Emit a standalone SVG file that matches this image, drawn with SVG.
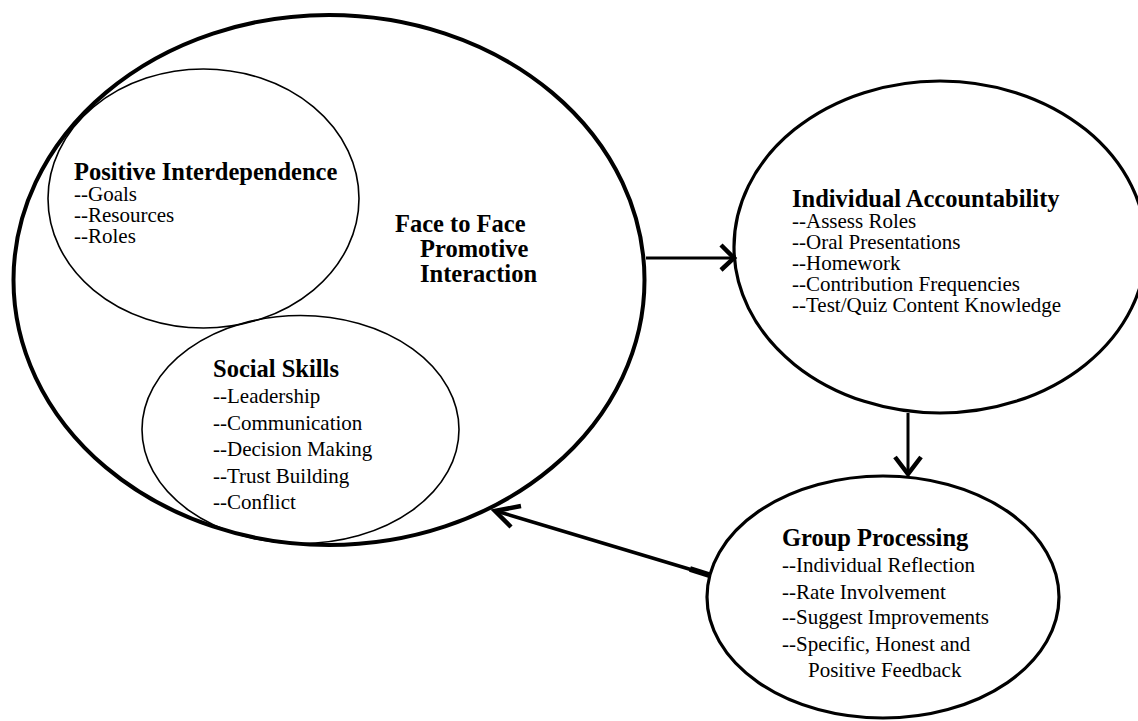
<svg xmlns="http://www.w3.org/2000/svg" width="1138" height="721" viewBox="0 0 1138 721">
<style>
.bg{fill:#fff}
.thick{fill:none;stroke:#000;stroke-width:4}
.med{fill:none;stroke:#000;stroke-width:3.2}
.thin{fill:none;stroke:#000;stroke-width:1.6}
.h{font-family:"Liberation Serif","Times New Roman",serif;font-weight:bold;font-size:24.5px;fill:#000}
.t{font-family:"Liberation Serif","Times New Roman",serif;font-size:21px;fill:#000}
.line{fill:none;stroke:#000;stroke-width:3}
.head{fill:none;stroke:#000;stroke-width:4.5;stroke-linejoin:miter;stroke-linecap:butt}
</style>
<rect class="bg" x="0" y="0" width="1138" height="721"/>
<g id="face-to-face">
<ellipse class="thick" cx="329" cy="280" rx="315.5" ry="265"/>
<text class="h" x="395" y="232">Face to Face</text>
<text class="h" x="420" y="257">Promotive</text>
<text class="h" x="420" y="282">Interaction</text>
</g>
<g id="positive-interdependence">
<ellipse class="thin" cx="203.5" cy="198.5" rx="155.5" ry="129.5"/>
<text class="h" x="74" y="180">Positive Interdependence</text>
<text class="t" x="74" y="201">--Goals</text>
<text class="t" x="74" y="222">--Resources</text>
<text class="t" x="74" y="243">--Roles</text>
</g>
<g id="social-skills">
<ellipse class="thin" cx="300.5" cy="429.5" rx="158.5" ry="114"/>
<text class="h" x="213" y="377">Social Skills</text>
<text class="t" x="213" y="403">--Leadership</text>
<text class="t" x="213" y="430">--Communication</text>
<text class="t" x="213" y="456">--Decision Making</text>
<text class="t" x="213" y="483">--Trust Building</text>
<text class="t" x="213" y="509">--Conflict</text>
</g>
<g id="individual-accountability">
<ellipse class="med" cx="940" cy="247" rx="206" ry="166"/>
<text class="h" x="792" y="207">Individual Accountability</text>
<text class="t" x="792" y="228">--Assess Roles</text>
<text class="t" x="792" y="249">--Oral Presentations</text>
<text class="t" x="792" y="270">--Homework</text>
<text class="t" x="792" y="291">--Contribution Frequencies</text>
<text class="t" x="792" y="312">--Test/Quiz Content Knowledge</text>
</g>
<g id="group-processing">
<ellipse class="med" cx="883" cy="597" rx="176" ry="121"/>
<text class="h" x="782" y="546">Group Processing</text>
<text class="t" x="782" y="572">--Individual Reflection</text>
<text class="t" x="782" y="599">--Rate Involvement</text>
<text class="t" x="782" y="624">--Suggest Improvements</text>
<text class="t" x="782" y="651">--Specific, Honest and</text>
<text class="t" x="808" y="677">Positive Feedback</text>
</g>
<g id="connectors">
<line class="line" x1="646" y1="258" x2="734" y2="258"/>
<polyline class="head" points="721,245 734,258 721,270"/>
<line class="line" x1="908" y1="413" x2="908" y2="474"/>
<polyline class="head" points="895,457 908,474 921,457"/>
<line class="line" x1="709" y1="575" x2="496" y2="511" style="stroke-width:3.6"/>
<line class="line" x1="690" y1="569" x2="709" y2="575" style="stroke-width:6"/>
<polyline class="head" points="521,506 495,511 511,527"/>
</g>
</svg>
